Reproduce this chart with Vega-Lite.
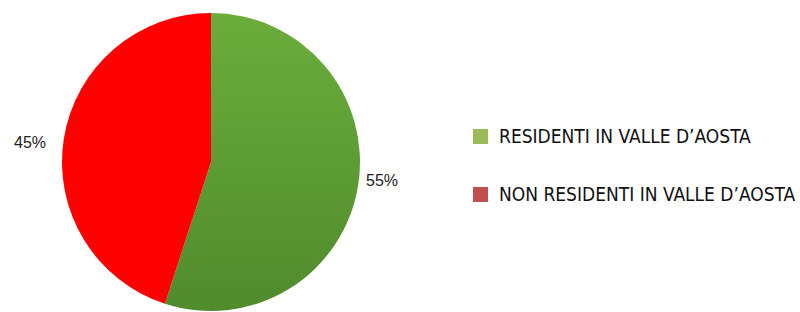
{
  "$schema": "https://vega.github.io/schema/vega-lite/v6.json",
  "width": 422,
  "height": 324,
  "autosize": "none",
  "padding": {"left": 0, "top": 0, "right": 378, "bottom": 0},
  "background": "white",
  "view": {"stroke": null},
  "data": {
    "values": [
      {"cat": "RESIDENTI IN VALLE D’AOSTA", "value": 55, "order": 1, "label": "55%"},
      {"cat": "NON RESIDENTI IN VALLE D’AOSTA", "value": 45, "order": 2, "label": "45%"}
    ]
  },
  "encoding": {
    "theta": {"field": "value", "type": "quantitative", "stack": true},
    "order": {"field": "order", "type": "quantitative", "sort": "ascending"}
  },
  "layer": [
    {
      "mark": {"type": "arc", "radius": 149},
      "encoding": {
        "fill": {
          "condition": {
            "test": "datum.order == 1",
            "value": {
              "gradient": "linear", "x1": 0, "y1": 0, "x2": 0, "y2": 1,
              "stops": [
                {"offset": 0, "color": "#6BAD3C"},
                {"offset": 1, "color": "#508B2C"}
              ]
            }
          },
          "value": "#FF0000"
        }
      }
    },
    {
      "mark": {"type": "arc", "radius": 0},
      "encoding": {
        "color": {
          "field": "cat",
          "type": "nominal",
          "scale": {
            "domain": ["RESIDENTI IN VALLE D’AOSTA", "NON RESIDENTI IN VALLE D’AOSTA"],
            "range": ["#9BBB59", "#C0504D"]
          },
          "legend": {
            "orient": "none",
            "legendX": 471,
            "legendY": 127,
            "title": null,
            "symbolType": "square",
            "symbolSize": 225,
            "symbolStrokeWidth": 0,
            "symbolOpacity": 1,
            "labelFont": "Liberation Sans Narrow, DejaVu Sans Condensed, Open Sans",
            "labelFontSize": 19,
            "labelColor": "#111111",
            "labelOffset": 9,
            "rowPadding": 38,
            "padding": 0,
            "labelLimit": 400
          }
        }
      }
    },
    {
      "mark": {"type": "text", "radius": 157, "align": "left", "baseline": "middle", "dy": -6, "font": "Liberation Sans", "fontSize": 16, "color": "#222222"},
      "encoding": {
        "text": {"condition": {"test": "datum.order == 1", "field": "label"}, "value": ""}
      }
    },
    {
      "mark": {"type": "text", "radius": 167, "align": "right", "baseline": "middle", "dy": 7, "font": "Liberation Sans", "fontSize": 16, "color": "#222222"},
      "encoding": {
        "text": {"condition": {"test": "datum.order == 2", "field": "label"}, "value": ""}
      }
    }
  ]
}
